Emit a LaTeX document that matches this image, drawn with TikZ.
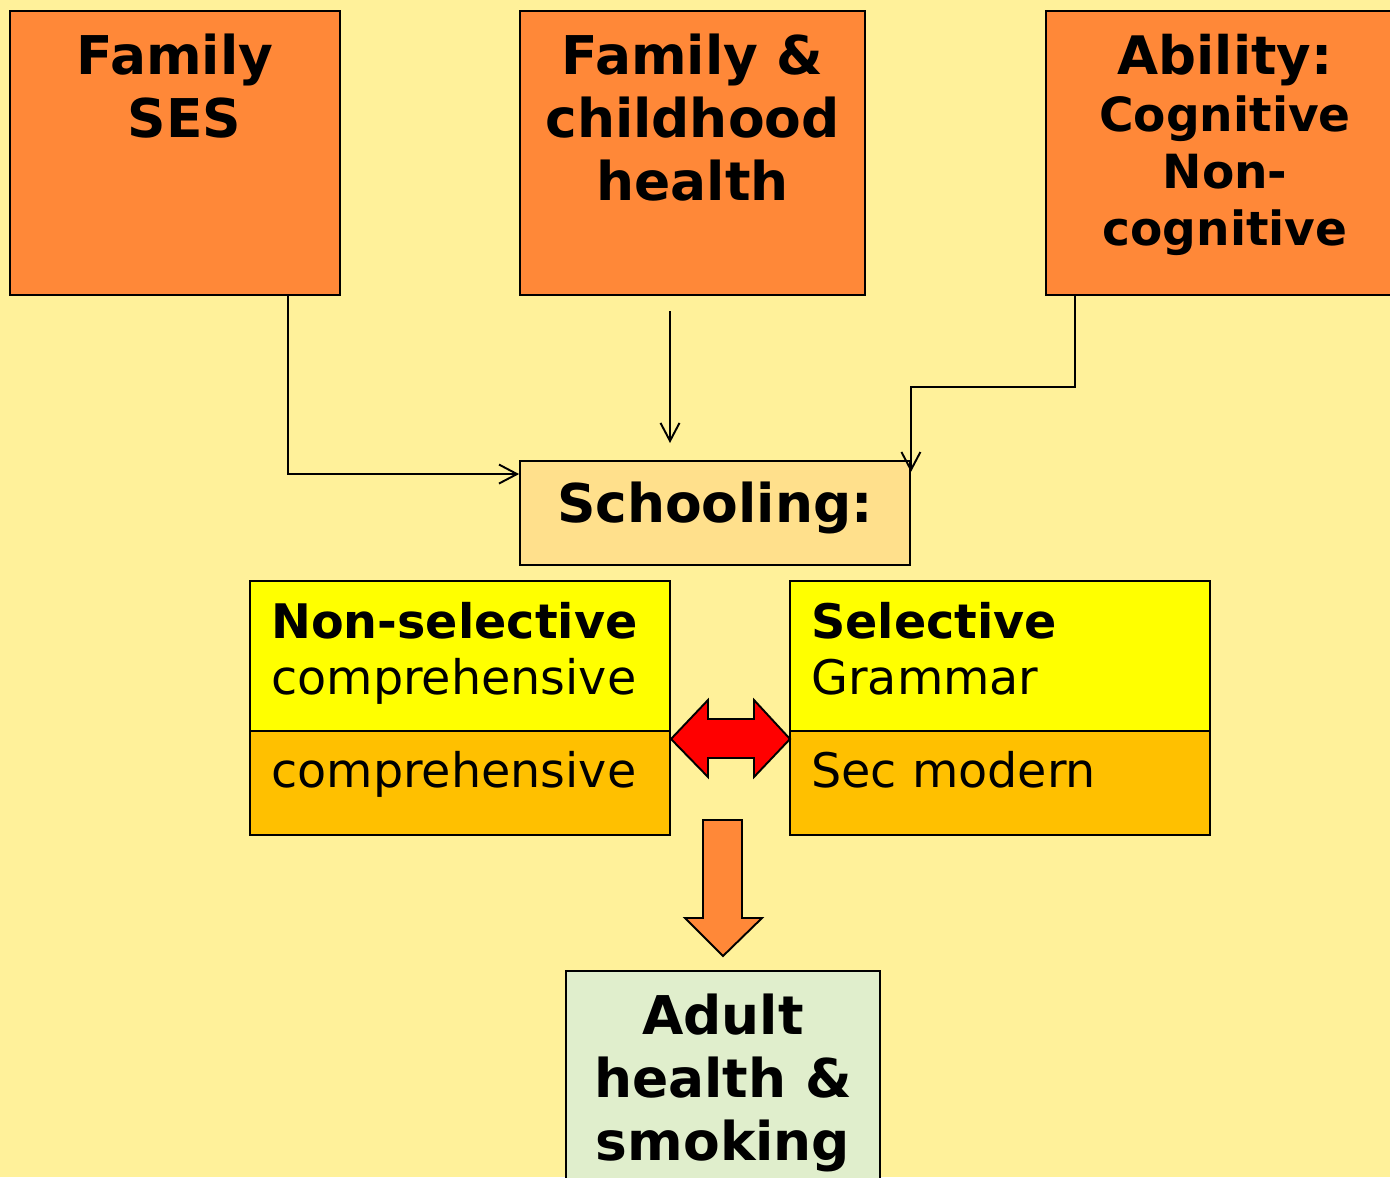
\documentclass[tikz,border=0pt]{standalone}
\usepackage{fontspec}
\setmainfont{DejaVu Sans}
\usetikzlibrary{arrows.meta}
\definecolor{slidebg}{HTML}{FFF19A}
\definecolor{boxorange}{HTML}{FF8838}
\definecolor{schoolbg}{HTML}{FFE08C}
\definecolor{selyellow}{HTML}{FFFF00}
\definecolor{secamber}{HTML}{FFC000}
\definecolor{adultgreen}{HTML}{E0EECC}
\definecolor{swapred}{HTML}{FF0000}

\begin{document}
\begin{tikzpicture}[
            x=0.02cm, y=-0.02cm,
            factor/.style={
                    draw=black, fill=boxorange, line width=1.1pt,
                    minimum height=5.68cm, inner sep=0pt
                },
            tier/.style={
                    draw=black, line width=1.1pt, minimum width=8.4cm, inner sep=0pt
                },
            bigtext/.style={
                    align=center, inner sep=0pt,
                    font=\fontsize{30.4}{36}\selectfont\bfseries
                },
            tiertext/.style={
                    align=left, inner sep=0pt,
                    font=\fontsize{27.1}{32.3}\selectfont
                },
            link/.style={
                    line width=1.1pt,
                    -{Straight Barb[length=0.36cm, width=0.38cm, line width=1.1pt]}
                },
            fatarrow/.style={draw=black, line width=1.1pt, line join=miter}
            ]
            \clip (0,0) rectangle (1390,1177);
            \useasboundingbox[fill=slidebg] (0,0) rectangle (1390,1177);

            % background factors
            \node[factor, minimum width=6.6cm] (fses) at (175,153) {};
            \node[factor, minimum width=6.9cm] (fch) at (692.5,153) {};
            \node[factor, minimum width=7.08cm] (abil) at (1223,153) {};

            \node[bigtext, anchor=north] (fsestext) at (175,33.5)
            {Family\\\hspace*{0.35em}SES};
            \node[bigtext, anchor=north] (fchtext) at (692.5,33.5)
            {Family \&\\childhood\\health};
            \node[bigtext, anchor=north, font=\fontsize{26.8}{32.5}\selectfont\bfseries]
            (abiltext) at (1225,33.5)
            {{\fontsize{30.2}{32.5}\selectfont Ability:}\\Cognitive\\Non-\\cognitive};

            % schooling
            \node[draw=black, fill=schoolbg, line width=1.1pt, inner sep=0pt,
                minimum width=7.8cm, minimum height=2.08cm] (school) at (715,513) {};
            \node[bigtext, anchor=base] (schooltext) at (715,522) {Schooling:};

            \node[tier, fill=selyellow, minimum height=3cm] (nselup) at (460,656) {};
            \node[tier, fill=secamber, minimum height=2.08cm] (nseldn) at (460,783) {};
            \node[tier, fill=selyellow, minimum height=3cm] (selup) at (1000,656) {};
            \node[tier, fill=secamber, minimum height=2.08cm] (seldn) at (1000,783) {};

            \node[tiertext, anchor=north west] (nseltext) at (271,601.5)
            {\textbf{Non-selective}\\comprehensive};
            \node[tiertext, anchor=base west] (nseldntext) at (271,787) {comprehensive};
            \node[tiertext, anchor=north west] (seltext) at (811,601.5)
            {\textbf{Selective}\\Grammar};
            \node[tiertext, anchor=base west] (seldntext) at (811,787) {Sec modern};

            % outcome
            \node[draw=black, fill=adultgreen, line width=1.1pt, inner sep=0pt,
                minimum width=6.28cm, minimum height=4.58cm] (adult) at (723,1085.5) {};
            \node[bigtext, anchor=north] (adulttext) at (723,993.5)
            {Adult\\health \&\\smoking};

            % connectors
            \coordinate (fchtail) at (670,311);
            \coordinate (fchtip) at (670,443);
            \draw[link] ([xshift=2.26cm]fses.south) |- ([yshift=-0.28cm]school.north west);
            \draw[link] (fchtail) -- (fchtip);
            \draw[link] ([xshift=0.6cm]abil.south west) -- ++(0,91)
            -| ([yshift=-0.24cm]school.north east);

            % swap and outcome arrows
            \draw[fatarrow, fill=swapred] (671,739) -- (708,700) -- (708,719) -- (754,719)
            -- (754,700) -- (790,739) -- (754,777) -- (754,758) -- (708,758)
            -- (708,777) -- cycle;
            \draw[fatarrow, fill=boxorange] (703,820) -- (742,820) -- (742,918)
            -- (762,918) -- (723,956) -- (685,918) -- (703,918) -- cycle;
        \end{tikzpicture}
\end{document}
